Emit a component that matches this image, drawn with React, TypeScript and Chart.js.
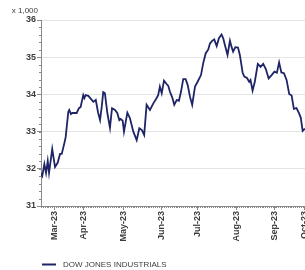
import React, { useEffect, useRef } from "react";
import { Chart, registerables } from "chart.js";

Chart.register(...registerables);

// Trading-day index (x) and Dow Jones level in thousands (y)
const days = [
  0, 0.7, 1.8, 2.7, 3.6, 4.3, 6.0, 7.5, 8.9, 10.2, 11.1, 12.5, 13.2, 14.6, 15.1, 16.0, 16.7, 19.1, 20.3, 21.2,
  22.6, 23.2, 23.9, 25.3, 26.7, 28.0, 29.3, 30.6, 31.6, 32.5, 33.3, 34.2, 35.5, 36.9, 38.0, 39.6, 40.8, 41.9, 42.6, 43.7,
  44.4, 46.2, 47.6, 49.4, 51.2, 52.6, 54.0, 55.2, 56.5, 58.3, 60.1, 61.5, 62.7, 63.6, 64.6, 65.8, 67.2, 68.1, 69.0, 70.2,
  71.3, 72.6, 73.8, 74.9, 76.1, 77.4, 78.5, 79.7, 80.9, 82.4, 83.8, 85.6, 86.8, 88.1, 89.5, 90.4, 91.6, 92.7, 94.0, 95.2,
  96.6, 97.5, 98.4, 99.8, 101.1, 102.0, 102.8, 104.0, 105.4, 106.4, 107.9, 108.8, 110.2, 111.4, 112.1, 113.2, 114.4, 116.0, 117.5, 118.9,
  120.3, 121.8, 123.4, 124.9, 126.2, 127.4, 128.6, 130.0, 131.4, 132.8, 134.1, 135.3, 136.7, 138.1, 139.0, 140.0, 141.2,
];
const dowValues = [
  31.88, 31.81, 32.13, 31.89, 32.21, 31.89, 32.53, 32.05, 32.16, 32.4, 32.4, 32.69, 32.85, 33.53, 33.58, 33.47, 33.5, 33.5, 33.63, 33.66,
  33.98, 33.9, 33.98, 33.96, 33.88, 33.8, 33.85, 33.5, 33.31, 33.67, 34.06, 34.03, 33.5, 33.1, 33.63, 33.58, 33.5, 33.31, 33.34, 33.29,
  33.0, 33.51, 33.36, 33.0, 32.77, 33.09, 33.04, 32.91, 33.72, 33.58, 33.76, 33.87, 33.98, 34.21, 34.03, 34.37, 34.28, 34.23, 34.07, 33.92,
  33.72, 33.85, 33.83, 34.07, 34.41, 34.41, 34.25, 33.94, 33.72, 34.21, 34.34, 34.52, 34.84, 35.1, 35.21, 35.37, 35.44, 35.48, 35.3, 35.51,
  35.61, 35.51, 35.33, 35.06, 35.44, 35.27, 35.15, 35.27, 35.26, 35.06, 34.58, 34.48, 34.44, 34.34, 34.39, 34.1, 34.34, 34.82, 34.74, 34.82,
  34.68, 34.43, 34.52, 34.61, 34.58, 34.86, 34.59, 34.57, 34.39, 34.01, 33.97, 33.61, 33.63, 33.49, 33.37, 33.02, 33.08,
];

const monthTicks = [7.3, 22.8, 43.9, 64.7, 84.0, 104.8, 125.1, 141.2];
const monthLabels = ["Mar-23", "Apr-23", "May-23", "Jun-23", "Jul-23", "Aug-23", "Sep-23", "Oct-23"];

const X_MIN = 0;
const X_MAX = 145;
const X_MINOR = 1;
const Y_MIN = 31;
const Y_MAX = 36;
const Y_STEP = 1;
const Y_MINOR = 0.2;

const seriesName = "DOW JONES INDUSTRIALS";
const unitLabel = "x 1,000";

const LINE_COLOR = "#1f2466";
const TEXT_COLOR = "#3c3c3c";
const AXIS_COLOR = "#8a8a8a";
const FONT = "'Liberation Sans', Arial, sans-serif";

const decorPlugin = {
  id: "decor",
  afterDraw(chart: any) {
    const { ctx, chartArea, scales } = chart;
    const xs = scales.x;
    const ys = scales.y;
    ctx.save();
    ctx.strokeStyle = AXIS_COLOR;
    ctx.lineWidth = 1;
    ctx.beginPath();
    for (let v = Y_MIN; v <= Y_MAX + 1e-9; v += Y_MINOR) {
      const py = Math.round(ys.getPixelForValue(v)) + 0.5;
      ctx.moveTo(chartArea.left - 2, py);
      ctx.lineTo(chartArea.left, py);
    }
    for (let v = X_MIN; v <= X_MAX + 1e-9; v += X_MINOR) {
      const px = Math.round(xs.getPixelForValue(v)) + 0.5;
      ctx.moveTo(px, chartArea.bottom);
      ctx.lineTo(px, chartArea.bottom + 2);
    }
    ctx.stroke();

    // unit label
    ctx.fillStyle = TEXT_COLOR;
    ctx.font = `8px ${FONT}`;
    ctx.textAlign = "right";
    ctx.textBaseline = "middle";
    ctx.fillText(unitLabel, chartArea.left - 3, chartArea.top - 9);

    // legend
    const ly = chart.height - 5.5;
    ctx.strokeStyle = LINE_COLOR;
    ctx.lineWidth = 2;
    ctx.beginPath();
    ctx.moveTo(chartArea.left + 1, ly);
    ctx.lineTo(chartArea.left + 15, ly);
    ctx.stroke();
    ctx.fillStyle = TEXT_COLOR;
    ctx.font = `8px ${FONT}`;
    ctx.textAlign = "left";
    ctx.fillText(seriesName, chartArea.left + 22, ly);
    ctx.restore();
  },
};

export default function App() {
  const ref = useRef<HTMLCanvasElement>(null);
  useEffect(() => {
    if (!ref.current) return;
    const chart = new Chart(ref.current, {
      type: "line",
      data: {
        datasets: [
          {
            label: seriesName,
            data: days.map((d, i) => ({ x: d, y: dowValues[i] })),
            borderColor: LINE_COLOR,
            borderWidth: 1.8,
            pointRadius: 0,
            tension: 0,
          },
        ],
      },
      options: {
        responsive: false,
        animation: false,
        devicePixelRatio: 1,
        layout: { padding: { top: 20, right: 8, bottom: 24, left: 0 } },
        plugins: { legend: { display: false }, tooltip: { enabled: false } },
        scales: {
          x: {
            type: "linear",
            min: X_MIN,
            max: X_MAX,
            afterFit: (s: any) => {
              s.height = 40;
            },
            afterBuildTicks: (s: any) => {
              s.ticks = monthTicks.map((v) => ({ value: v }));
            },
            grid: { drawOnChartArea: false, drawTicks: true, tickLength: 4, tickColor: AXIS_COLOR },
            border: { color: AXIS_COLOR },
            ticks: {
              autoSkip: false,
              minRotation: 90,
              maxRotation: 90,
              padding: 1,
              color: TEXT_COLOR,
              font: { family: FONT, size: 9, weight: "bold" },
              callback: (v: any) => {
                const i = monthTicks.indexOf(Number(v));
                return i >= 0 ? monthLabels[i] : "";
              },
            },
          },
          y: {
            min: Y_MIN,
            max: Y_MAX,
            afterFit: (s: any) => {
              s.width = 41;
            },
            grid: { color: "#e4e4e4", tickLength: 4, tickColor: AXIS_COLOR },
            border: { color: AXIS_COLOR },
            ticks: {
              stepSize: Y_STEP,
              padding: 1,
              color: TEXT_COLOR,
              font: { family: FONT, size: 9, weight: "bold" },
            },
          },
        },
      },
      plugins: [decorPlugin],
    });
    return () => chart.destroy();
  }, []);
  return (
    <div style={{ position: "absolute", left: 0, top: 0, width: 305, height: 270, overflow: "hidden", background: "#fff" }}>
      <canvas ref={ref} width={320} height={270} style={{ display: "block" }} />
    </div>
  );
}
